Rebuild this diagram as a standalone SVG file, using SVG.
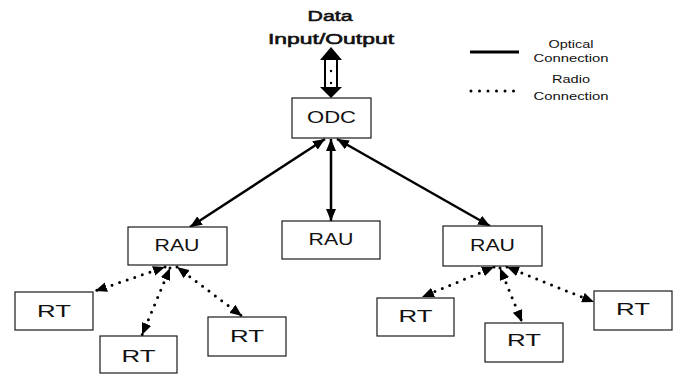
<svg xmlns="http://www.w3.org/2000/svg" width="678" height="374" viewBox="0 0 678 374">
<defs>
<style>
.box{fill:#fff;stroke:#1a1a1a;stroke-width:1.2}
.lbl{font-family:"Liberation Sans",Arial,sans-serif;font-size:16px;fill:#111;text-anchor:middle}
.leg{font-family:"Liberation Sans",Arial,sans-serif;font-size:11.5px;fill:#111;text-anchor:middle}
.ttl{font-family:"Liberation Sans",Arial,sans-serif;font-size:15.5px;fill:#111;stroke:#111;stroke-width:0.6;text-anchor:middle}
.opt{stroke:#000;stroke-width:2.5;fill:none}
.rad{stroke:#000;stroke-width:3;fill:none;stroke-dasharray:0 8;stroke-linecap:round}
</style>
<marker id="ah" viewBox="0 0 12 10" refX="12" refY="5" markerWidth="12" markerHeight="10" markerUnits="userSpaceOnUse" orient="auto-start-reverse">
<path d="M0,0 L12,5 L0,10 z" fill="#000"/>
</marker>
</defs>
<rect width="678" height="374" fill="#fff"/>

<g id="title">
<text class="ttl" x="330" y="21" textLength="45" lengthAdjust="spacingAndGlyphs">Data</text>
<text class="ttl" x="331" y="44" textLength="126" lengthAdjust="spacingAndGlyphs">Input/Output</text>
</g>

<g id="io-arrow">
<rect x="325" y="59" width="12" height="29" fill="#fff" stroke="#000" stroke-width="2"/>
<polygon points="331,47 320,60 342,60" fill="#000"/>
<polygon points="331,98 320,87 342,87" fill="#000"/>
<circle cx="331" cy="71" r="1.2" fill="#000"/>
<circle cx="331" cy="83" r="1.2" fill="#000"/>
</g>

<g id="legend">
<line x1="470" y1="52" x2="519" y2="52" stroke="#000" stroke-width="3"/>
<line x1="471" y1="91" x2="516" y2="91" class="rad" stroke-width="2.2" style="stroke-dasharray:0 8.5"/>
<text class="leg" x="571" y="48" textLength="45" lengthAdjust="spacingAndGlyphs">Optical</text>
<text class="leg" x="571" y="62" textLength="75" lengthAdjust="spacingAndGlyphs">Connection</text>
<text class="leg" x="571" y="83" textLength="38" lengthAdjust="spacingAndGlyphs">Radio</text>
<text class="leg" x="571" y="100" textLength="75" lengthAdjust="spacingAndGlyphs">Connection</text>
</g>

<g id="connectors">
<line class="opt" x1="325" y1="139" x2="190" y2="227" marker-start="url(#ah)" marker-end="url(#ah)"/>
<line class="opt" x1="331" y1="139" x2="331" y2="221" marker-start="url(#ah)" marker-end="url(#ah)"/>
<line class="opt" x1="337" y1="139" x2="490" y2="226" marker-start="url(#ah)" marker-end="url(#ah)"/>

<line class="rad" x1="165" y1="267" x2="95" y2="291" marker-start="url(#ah)" marker-end="url(#ah)"/>
<line class="rad" x1="170" y1="268" x2="142" y2="335" marker-start="url(#ah)" marker-end="url(#ah)"/>
<line class="rad" x1="177" y1="267" x2="242" y2="316" marker-start="url(#ah)" marker-end="url(#ah)"/>

<line class="rad" x1="494" y1="267" x2="422" y2="297" marker-start="url(#ah)" marker-end="url(#ah)"/>
<line class="rad" x1="500" y1="268" x2="522" y2="322" marker-start="url(#ah)" marker-end="url(#ah)"/>
<line class="rad" x1="507" y1="267" x2="594" y2="302" marker-start="url(#ah)" marker-end="url(#ah)"/>
</g>

<g id="odc">
<rect class="box" x="292" y="98" width="79" height="40"/>
<text class="lbl" x="331.5" y="123" textLength="49" lengthAdjust="spacingAndGlyphs">ODC</text>
</g>
<g id="rau-left">
<rect class="box" x="128" y="227" width="99" height="38"/>
<text class="lbl" x="177" y="251" textLength="45" lengthAdjust="spacingAndGlyphs">RAU</text>
</g>
<g id="rau-middle">
<rect class="box" x="282" y="221" width="98" height="38"/>
<text class="lbl" x="331" y="245" textLength="45" lengthAdjust="spacingAndGlyphs">RAU</text>
</g>
<g id="rau-right">
<rect class="box" x="443" y="226" width="99" height="40"/>
<text class="lbl" x="492.5" y="251" textLength="45" lengthAdjust="spacingAndGlyphs">RAU</text>
</g>
<g id="rt1">
<rect class="box" x="15" y="292" width="78" height="38"/>
<text class="lbl" x="54" y="317" textLength="34" lengthAdjust="spacingAndGlyphs">RT</text>
</g>
<g id="rt2">
<rect class="box" x="100" y="336" width="77" height="37"/>
<text class="lbl" x="138.5" y="362" textLength="34" lengthAdjust="spacingAndGlyphs">RT</text>
</g>
<g id="rt3">
<rect class="box" x="208" y="317" width="78" height="39"/>
<text class="lbl" x="247" y="342" textLength="34" lengthAdjust="spacingAndGlyphs">RT</text>
</g>
<g id="rt4">
<rect class="box" x="377" y="298" width="77" height="38"/>
<text class="lbl" x="415.5" y="322" textLength="34" lengthAdjust="spacingAndGlyphs">RT</text>
</g>
<g id="rt5">
<rect class="box" x="485" y="323" width="78" height="39"/>
<text class="lbl" x="524" y="346" textLength="34" lengthAdjust="spacingAndGlyphs">RT</text>
</g>
<g id="rt6">
<rect class="box" x="594" y="291" width="78" height="39"/>
<text class="lbl" x="633" y="315" textLength="34" lengthAdjust="spacingAndGlyphs">RT</text>
</g>
</svg>
